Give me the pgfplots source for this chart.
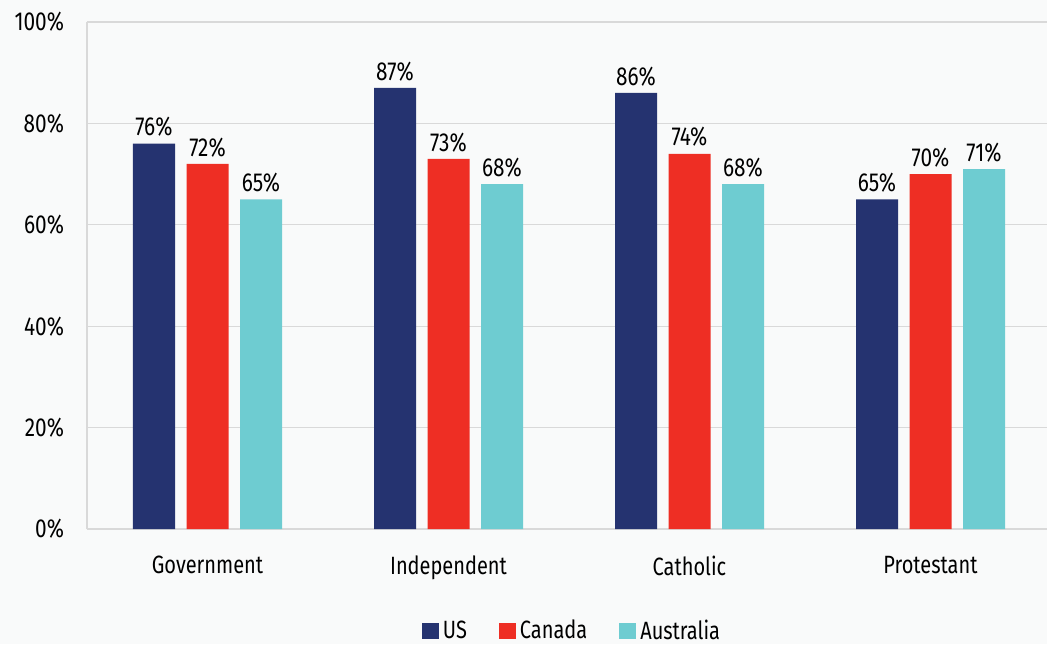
\documentclass[border=0pt]{standalone}
\usepackage{pgfplots}
\pgfplotsset{compat=1.18}
\usepackage{fontspec}
\setmainfont{Fira Sans}[FakeStretch=0.8]
\definecolor{usc}{HTML}{253370}
\definecolor{cac}{HTML}{EE2E24}
\definecolor{auc}{HTML}{6ECCD1}
\definecolor{bg}{HTML}{F9FAFA}
\definecolor{gridc}{HTML}{D9D9D9}
\begin{document}
\begin{tikzpicture}
\fill[bg] (-43.5pt,-57.5pt) rectangle (480pt,264.5pt);
\useasboundingbox (-43.5pt,-57.5pt) rectangle (480pt,264.5pt);
\begin{axis}[
  at={(0,0)}, anchor=south west,
  scale only axis, width=482pt, height=253.5pt,
  xmin=-0.5, xmax=3.5, ymin=0, ymax=100,
  ybar, bar width=21pt,
  xtick={0,1,2,3},
  xticklabels={Government,Independent,Catholic,Protestant},
  ytick={0,20,40,60,80,100},
  yticklabel={\pgfmathprintnumber{\tick}\%},
  /pgf/number format/assume math mode=true,
  ymajorgrids, grid style={gridc, line width=0.6pt},
  axis x line*=bottom, axis y line*=left,
  axis line style={gridc, line width=0.6pt},
  x axis line style={-}, y axis line style={-},
  major tick length=0pt,
  tick style={draw=none},
  yticklabel style={font=\fontsize{13}{15}\selectfont, xshift=-8pt},
  xticklabel style={font=\fontsize{12.5}{15}\selectfont, yshift=-10pt},
  nodes near coords={\pgfmathprintnumber{\pgfplotspointmeta}\%},
  nodes near coords style={font=\fontsize{13}{15}\selectfont, text=black, /pgf/number format/assume math mode=true},
  legend style={at={(0.5,0)}, anchor=center, xshift=2pt, yshift=-51pt, draw=none, fill=none,
    legend columns=-1, font=\fontsize{12.5}{15}\selectfont,
    /tikz/every even column/.append style={column sep=14pt}},
  legend image code/.code={\fill[#1] (0pt,-4.2pt) rectangle (8.5pt,4.2pt);},
  clip=false,
]
\addplot[fill=usc, draw=none, bar shift=-26.75pt] coordinates {(0,76) (1,87) (2,86) (3,65)};
\addplot[fill=cac, draw=none, bar shift=0pt] coordinates {(0,72) (1,73) (2,74) (3,70)};
\addplot[fill=auc, draw=none, bar shift=26.75pt] coordinates {(0,65) (1,68) (2,68) (3,71)};
\legend{US, Canada, Australia}
\end{axis}
\end{tikzpicture}
\end{document}
